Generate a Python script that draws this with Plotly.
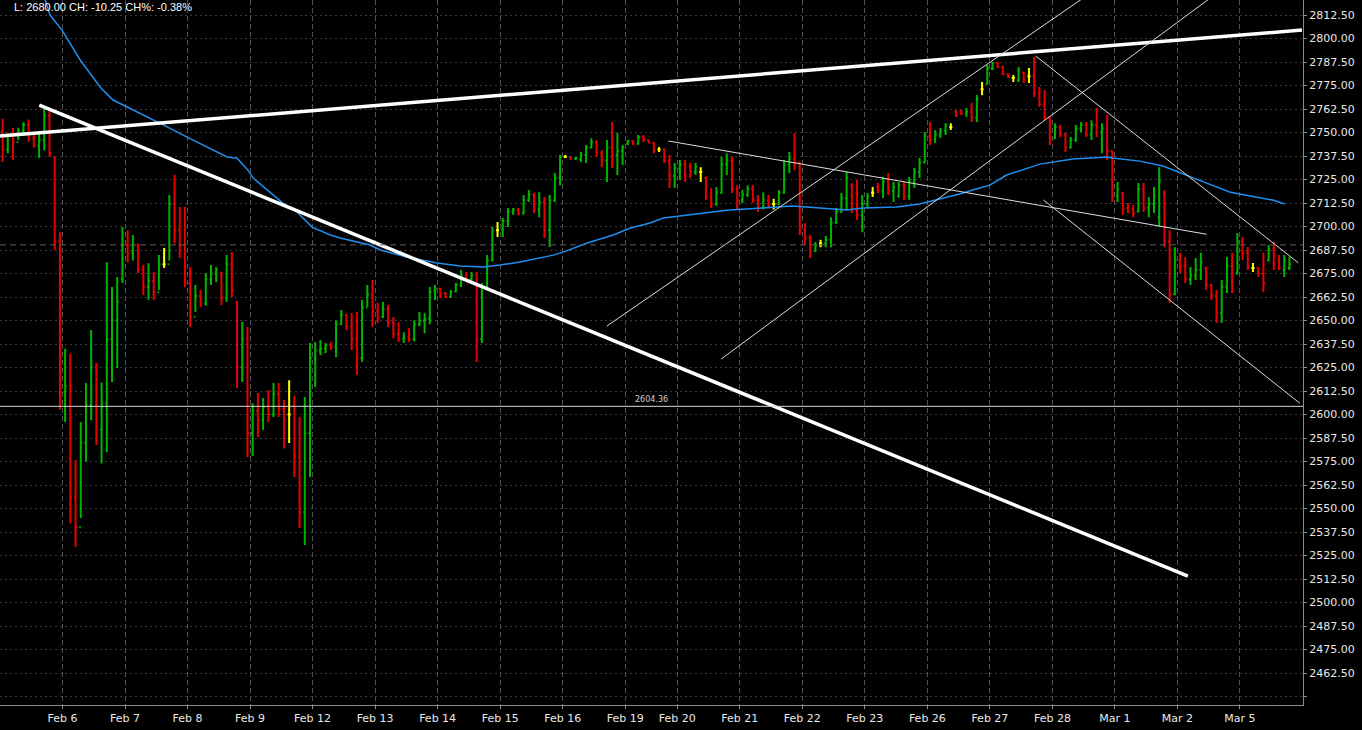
import plotly.graph_objects as go

# ---------------- data ----------------
days = ["Feb 5", "Feb 6", "Feb 7", "Feb 8", "Feb 9", "Feb 12", "Feb 13", "Feb 14",
        "Feb 15", "Feb 16", "Feb 19", "Feb 20", "Feb 21", "Feb 22", "Feb 23",
        "Feb 26", "Feb 27", "Feb 28", "Mar 1", "Mar 2", "Mar 5"]
bars_per_day = [12, 12, 12, 12, 12, 12, 12, 12, 12, 12, 10,
                12, 12, 12, 12, 12, 12, 12, 12, 12, 10]

opens = [
    # Feb 5
    2750, 2741, 2748, 2745, 2751, 2754, 2747, 2743, 2746, 2759, 2737, 2692,
    # Feb 6
    2612, 2615, 2556, 2540, 2585, 2605, 2625, 2592, 2606, 2640, 2650, 2672,
    # Feb 7
    2690, 2686, 2690, 2677, 2668, 2671, 2665, 2680, 2680, 2712, 2698, 2690,
    # Feb 8
    2670, 2652, 2663, 2659, 2672, 2675, 2675, 2662, 2680, 2660, 2625, 2640,
    # Feb 9
    2590, 2602, 2597, 2604, 2600, 2611, 2603, 2600, 2605, 2578, 2548, 2590,
    # Feb 12
    2630, 2634, 2635, 2637, 2636, 2648, 2653, 2647, 2640, 2630, 2657, 2664,
    # Feb 13
    2655, 2652, 2656, 2649, 2643, 2640, 2641, 2640, 2648, 2650, 2651, 2666,
    # Feb 14
    2667, 2664.5, 2662.5, 2665.5, 2669, 2674, 2672, 2674, 2640, 2668, 2682, 2698,
    # Feb 15
    2698, 2703, 2708, 2709, 2707, 2714, 2717, 2709, 2713, 2698, 2714, 2726,
    # Feb 16
    2737, 2737, 2736, 2735.5, 2738, 2742, 2745, 2739, 2735, 2742, 2738, 2740,
    # Feb 19
    2744, 2745.5, 2744, 2747.5, 2746, 2744.5, 2741, 2741, 2735, 2727,
    # Feb 20
    2731, 2733, 2732, 2729, 2729, 2726, 2716, 2712, 2718, 2733, 2735, 2720,
    # Feb 21
    2714, 2717, 2720, 2714, 2710, 2714, 2712, 2712, 2718, 2733, 2736, 2734,
    # Feb 22
    2698, 2694, 2687, 2691, 2691, 2693, 2702, 2708, 2715, 2722, 2718, 2706,
    # Feb 23
    2712, 2718, 2721, 2719, 2724, 2719, 2716, 2722, 2716, 2724, 2729, 2734,
    # Feb 26
    2748, 2746, 2749, 2751, 2753, 2761, 2761, 2760, 2761, 2758, 2773, 2776,
    # Feb 27
    2784, 2787, 2785, 2781, 2779, 2778, 2782, 2780, 2780, 2771, 2765, 2758,
    # Feb 28
    2747, 2753, 2749, 2742, 2746, 2752, 2754, 2749, 2754, 2750, 2752, 2740,
    # Mar 1
    2716, 2718, 2710, 2709, 2708, 2720, 2710, 2712, 2705, 2718, 2692, 2664,
    # Mar 2
    2682, 2679, 2672, 2674, 2677, 2678, 2669, 2663, 2654, 2668, 2679, 2675,
    # Mar 5
    2692, 2686, 2678, 2678, 2675, 2682, 2688, 2682, 2677, 2678,
]
highs = [
    2757.5, 2749.7, 2752.5, 2752.5, 2755.5, 2757, 2749.5, 2749.5, 2763, 2762, 2737, 2697,
    2635, 2632.5, 2575.8, 2596, 2616.8, 2645, 2627.4, 2617, 2681, 2667.8, 2673.1, 2699.7,
    2698, 2695.5, 2691, 2679.5, 2680.5, 2675.8, 2684.8, 2688.6, 2716.8, 2727.4, 2710.4, 2710.4,
    2678.5, 2668.9, 2666.2, 2675.3, 2679.5, 2678.5, 2676, 2684.8, 2686.4, 2660.5, 2649.2, 2646.5,
    2606, 2611.4, 2608.8, 2613, 2616.8, 2616.8, 2607.7, 2618.3, 2610, 2598.7, 2609.3, 2638,
    2638.6, 2639.6, 2638, 2638.6, 2650.2, 2655.6, 2653.5, 2654, 2654.5, 2660.9, 2668.9, 2671.5,
    2659.3, 2659.8, 2658.2, 2651.9, 2649.2, 2643.8, 2645.9, 2650.2, 2654.5, 2654, 2667.8, 2668.9,
    2667.3, 2665.2, 2666.2, 2670, 2676.9, 2675.8, 2675.8, 2675.8, 2670, 2684.8, 2699.7, 2702.4,
    2704.5, 2709.8, 2709.8, 2709.8, 2716.8, 2719.4, 2717.8, 2718.3, 2715.7, 2716.8, 2728.5, 2738,
    2738, 2737, 2737, 2739.6, 2743.4, 2747, 2746, 2740.7, 2746, 2755.6, 2749.7, 2743.4,
    2746, 2746, 2748.7, 2748.7, 2746, 2745, 2742.3, 2741.5, 2738, 2733.8,
    2735.4, 2735.4, 2733.8, 2733.8, 2731.6, 2726.5, 2720.5, 2721, 2737, 2739, 2737, 2722,
    2719.4, 2722, 2722, 2716.8, 2718.3, 2716.8, 2714.8, 2719.4, 2735.4, 2739.6, 2749.7, 2734.3,
    2701.9, 2695.5, 2691.8, 2693, 2695, 2705, 2709.8, 2717.8, 2729, 2723, 2724.7, 2716.8,
    2717.8, 2721, 2723.1, 2726.3, 2728.5, 2723.7, 2723.7, 2723.7, 2726.3, 2731.1, 2736.4, 2750.3,
    2755.6, 2751.3, 2752.4, 2755, 2755, 2762, 2762, 2763, 2765.7, 2770, 2776.9, 2785.9,
    2787.5, 2787.5, 2785.5, 2781.6, 2780.6, 2784.8, 2782.2, 2784.3, 2790.2, 2774.2, 2772.6, 2758.5,
    2755, 2754, 2749.7, 2747.6, 2754, 2755.6, 2755.6, 2756.6, 2763, 2755, 2759.3, 2740.5,
    2723.7, 2718.5, 2712.5, 2711.4, 2723.1, 2723.1, 2715.7, 2721, 2731.6, 2719.4, 2698, 2689,
    2686, 2683.8, 2678.5, 2683.3, 2686, 2678.5, 2669.5, 2666.2, 2671.5, 2683.8, 2686, 2696.5,
    2694.4, 2689.1, 2680.6, 2678.5, 2686, 2690.2, 2691.8, 2684.8, 2684.8, 2683.8,
]
lows = [
    2734.5, 2739, 2735.5, 2746, 2749.5, 2745, 2742, 2736.5, 2740.5, 2737, 2687.5, 2602.5,
    2596, 2542, 2529.5, 2545, 2574.8, 2597, 2583.8, 2574, 2580, 2617.3, 2624.7, 2670,
    2681, 2682, 2675.3, 2663.6, 2660.9, 2660.9, 2666.2, 2678, 2682, 2691, 2683.3, 2667.8,
    2646.5, 2654.5, 2657.2, 2658, 2668.9, 2670.5, 2658.2, 2659.8, 2662.5, 2614.1, 2617.3, 2577.4,
    2578, 2588, 2591.8, 2596, 2598.7, 2598.7, 2582, 2584.8, 2566.8, 2539.6, 2530.6, 2566.8,
    2614.6, 2631.6, 2632.7, 2634.3, 2630.6, 2647.6, 2644.9, 2634.3, 2621, 2628, 2657.2, 2646.5,
    2648.7, 2651.3, 2646.5, 2640.6, 2638.6, 2638, 2638.6, 2639, 2647, 2643.3, 2648, 2660.9,
    2662, 2662, 2662, 2665, 2667.8, 2671.5, 2670, 2627.9, 2638, 2667.8, 2681.5, 2694.4,
    2694.4, 2699.7, 2706.1, 2706.1, 2706.5, 2713, 2707.2, 2705, 2693.9, 2689.1, 2713, 2722,
    2736.4, 2735.4, 2735.4, 2734.3, 2733.8, 2741.5, 2737, 2731.6, 2723.7, 2731.1, 2727.4, 2732.7,
    2743.4, 2743.4, 2743.5, 2745, 2744.4, 2739, 2739.6, 2733.8, 2720.5, 2720.5,
    2724.7, 2723.7, 2725.8, 2727.4, 2723.7, 2714.1, 2709.8, 2711, 2717.5, 2727.4, 2717.8, 2708.8,
    2712.5, 2715.7, 2712.5, 2707.7, 2709, 2709.8, 2709, 2711.5, 2717.5, 2728.5, 2730, 2695.5,
    2690.2, 2683.3, 2686.4, 2689, 2689, 2689, 2701.5, 2707.2, 2708.8, 2707.2, 2703.5, 2697,
    2709.8, 2715.7, 2717.8, 2715.2, 2716.8, 2713, 2715.5, 2714.1, 2714.1, 2720.5, 2725.8, 2733.8,
    2743.4, 2744.4, 2747.1, 2748.7, 2751.3, 2758.2, 2759.3, 2758.2, 2755.6, 2755.6, 2769.9, 2775.5,
    2783.2, 2784.3, 2780.6, 2779, 2776.9, 2776.9, 2776.3, 2776.3, 2768.9, 2763.6, 2756.6, 2743.4,
    2746.5, 2747.6, 2739.6, 2741.5, 2745, 2750.3, 2747.6, 2746, 2747.6, 2739, 2735.4, 2713,
    2713, 2706.1, 2707.2, 2705, 2707.5, 2707.7, 2705, 2707.2, 2699.7, 2689.1, 2659.3, 2663.5,
    2675.3, 2670, 2668.9, 2671.5, 2671.5, 2666.2, 2660.9, 2648.7, 2648.7, 2664.6, 2664.6, 2674.5,
    2682.2, 2676.9, 2675.8, 2673.1, 2665.2, 2681.5, 2676.9, 2676.9, 2673.1, 2676.9,
]
closes = [
    2741, 2748, 2745, 2751, 2754, 2747, 2743, 2746, 2759, 2739, 2692, 2612,
    2615, 2556, 2540, 2585, 2605, 2625, 2592, 2606, 2640, 2650, 2660, 2690,
    2686, 2690, 2677, 2668, 2671, 2665, 2680, 2680, 2712, 2698, 2690, 2670,
    2652, 2663, 2659, 2672, 2675, 2677, 2662, 2680, 2666, 2625, 2640, 2590,
    2602, 2597, 2604, 2600, 2611, 2603, 2590, 2600, 2578, 2548, 2590, 2630,
    2634, 2635, 2637, 2636, 2648, 2653, 2647, 2640, 2630, 2657, 2664, 2655,
    2652, 2656, 2649, 2643, 2640, 2641, 2640, 2648, 2650, 2651, 2665, 2667,
    2663, 2662.5, 2665.5, 2669, 2674, 2672, 2674, 2640, 2668, 2682, 2698, 2698,
    2703, 2708, 2709, 2707, 2714, 2717, 2709, 2713, 2698, 2714, 2726, 2737,
    2737, 2736, 2736.5, 2738, 2742, 2745, 2739, 2735, 2742, 2738, 2740, 2742,
    2745.5, 2744, 2747.5, 2746, 2744.5, 2740, 2741, 2735, 2727, 2731,
    2733, 2727, 2729, 2732, 2729, 2716, 2712, 2718, 2733, 2735, 2720, 2714,
    2717, 2720, 2714, 2710, 2714, 2711, 2712, 2718, 2733, 2736, 2734, 2698,
    2694, 2687, 2690, 2691, 2693, 2702, 2708, 2715, 2726, 2712, 2706, 2712,
    2716, 2718, 2719, 2724, 2719, 2721, 2722, 2716, 2724, 2729, 2734, 2748,
    2746, 2749, 2751, 2754, 2753, 2759, 2760, 2761, 2758, 2768, 2773, 2784,
    2787, 2785, 2781, 2779.5, 2779, 2783, 2778, 2780, 2771, 2765, 2758, 2747,
    2753, 2749, 2742, 2746, 2752, 2754, 2749, 2754, 2750, 2752, 2740, 2716,
    2720, 2709, 2708, 2707, 2720, 2710, 2712, 2716, 2724, 2692, 2664, 2682,
    2679, 2672, 2674, 2677, 2681, 2669, 2663, 2654, 2668, 2679, 2675, 2692,
    2686, 2679, 2678, 2675, 2670, 2688, 2680, 2678, 2682, 2680,
]

# moving average readings (bar position, value)
ma_x = [8, 9.1, 11.4, 14.9, 18.7, 21.2, 23.9, 28.3, 31.6, 35.4, 39.2, 43.1, 45, 47.1,
        48.1, 51.3, 53.8, 56.5, 59.4, 62.9, 64.8, 70.5, 72.5, 77.6, 83.4, 87.8, 92.2,
        95.5, 99.3, 105.7, 107.6, 112.2, 117.2, 120.5, 124.3, 126.8, 133.2, 139.5,
        145.9, 151.6, 154.3, 158.7, 162, 165.1, 171.6, 176, 179.3, 183.7, 186.2, 189.5,
        192.7, 199.1, 205.4, 211.9, 213, 218.3, 222.7, 227.3, 231.1, 235.5, 237.4,
        243.8, 246.1]
ma_v = [2822, 2812.5, 2804.5, 2788.6, 2774.2, 2767.3, 2763.6, 2757.7, 2753, 2747.6,
        2742.3, 2737, 2736.3, 2730, 2725.8, 2718.4, 2712.5, 2707.7, 2699.7, 2695.5,
        2693.9, 2690.2, 2687.5, 2683.8, 2680.6, 2679, 2678.5, 2679.5, 2681.1, 2684.8,
        2686.4, 2691.2, 2695.5, 2699.2, 2701.9, 2704.5, 2706.6, 2708.8, 2709.8, 2710.9,
        2710.4, 2709.3, 2708.8, 2709.8, 2710.4, 2712, 2714.1, 2717.3, 2719.4, 2722,
        2727.4, 2733.2, 2735.9, 2737, 2736.4, 2734.8, 2732.2, 2727.4, 2723.1, 2718.4,
        2717.3, 2714.1, 2712]

# drawn trend lines: (x0, y0, x1, y1)
thick_lines = [(-0.5, 2748.1, 249.4, 2804.5),
               (7.04, 2764.6, 227.5, 2514.1)]
thin_lines = [(127.8, 2745.5, 231.1, 2695.9),
              (116.0, 2647.1, 210.7, 2827.8),
              (137.9, 2629.5, 235.6, 2829.3),
              (198.3, 2790.7, 248.7, 2680.7),
              (199.8, 2714.1, 249.0, 2606.0)]
level_line = 2604.36
prev_close = 2690.25
header_text = "L: 2680.00 CH: -10.25 CH%: -0.38%"

# ---------------- build ----------------
n = len(closes)
xs = list(range(n))
tickvals, ticktext = [], []
start = 0
for d, cnt in zip(days, bars_per_day):
    if start > 0:
        tickvals.append(start - 0.5)
        ticktext.append(d)
    start += cnt

doji = [o == c for o, c in zip(opens, closes)]


def pick(vals, keep):
    return [v if k else None for v, k in zip(vals, keep)]


normal = [not d for d in doji]
fig = go.Figure()
fig.add_trace(go.Ohlc(
    x=xs, open=pick(opens, normal), high=pick(highs, normal),
    low=pick(lows, normal), close=pick(closes, normal),
    increasing=dict(line=dict(color="#00b400", width=2)),
    decreasing=dict(line=dict(color="#e60000", width=2)),
    tickwidth=0.3, hoverinfo="skip"))
fig.add_trace(go.Ohlc(
    x=xs, open=pick(opens, doji), high=pick(highs, doji),
    low=pick(lows, doji), close=pick(closes, doji),
    increasing=dict(line=dict(color="#ffff00", width=2)),
    decreasing=dict(line=dict(color="#ffff00", width=2)),
    tickwidth=0.3, hoverinfo="skip"))

fig.add_trace(go.Scatter(x=ma_x, y=ma_v, mode="lines",
                         line=dict(color="#1e8ff0", width=1.5), hoverinfo="skip"))

for x0, y0, x1, y1 in thick_lines:
    fig.add_trace(go.Scatter(x=[x0, x1], y=[y0, y1], mode="lines",
                             line=dict(color="#ffffff", width=3.5), hoverinfo="skip"))
for x0, y0, x1, y1 in thin_lines:
    fig.add_trace(go.Scatter(x=[x0, x1], y=[y0, y1], mode="lines",
                             line=dict(color="#dcdcdc", width=1), hoverinfo="skip"))

fig.add_shape(type="line", xref="paper", x0=0, x1=1, yref="y",
              y0=prev_close, y1=prev_close,
              line=dict(color="#5f5f5f", width=1, dash="6px,4px"))
fig.add_shape(type="line", xref="paper", x0=0, x1=1, yref="y",
              y0=level_line, y1=level_line,
              line=dict(color="#d8d8d8", width=1))
fig.add_annotation(xref="paper", x=0.5, y=level_line, yanchor="bottom",
                   text=f"{level_line:.2f}", showarrow=False,
                   font=dict(family="DejaVu Sans", size=8, color="#d0d0d0"))
fig.add_annotation(xref="paper", yref="paper", x=0, y=1, xanchor="left", yanchor="top",
                   xshift=12, yshift=1, text=header_text, showarrow=False,
                   font=dict(family="Liberation Sans", size=11, color="#ffffff"))

ytick = [2450 + 12.5 * k for k in range(30)]
ytext = ["" if v < 2460 else f"{v:.2f}" for v in ytick]

axis_font = dict(family="DejaVu Sans", size=11, color="#e8e8e8")
fig.update_layout(
    width=1362, height=730,
    margin=dict(l=0, r=59, t=0, b=25),
    paper_bgcolor="#000000", plot_bgcolor="#000000",
    showlegend=False,
    xaxis=dict(range=[-0.5, 249.6], tickmode="array", tickvals=tickvals, ticktext=ticktext,
               showgrid=True, gridcolor="#525252", griddash="5px,3px", gridwidth=1,
               rangeslider=dict(visible=False), showline=True, linecolor="#8c8c8c",
               ticks="outside", ticklen=3, tickcolor="#8c8c8c", tickfont=axis_font,
               zeroline=False),
    yaxis=dict(side="right", range=[2445.5, 2820.5], tickmode="array",
               tickvals=ytick, ticktext=ytext,
               showgrid=True, gridcolor="#3a3a3a", griddash="2px,3px", gridwidth=1,
               showline=True, linecolor="#8c8c8c", ticks="outside", ticklen=3,
               tickcolor="#8c8c8c", tickfont=axis_font, zeroline=False),
)

fig.write_html(
    "out.html",
    config={"displayModeBar": False},
    post_script="document.body.style.margin='0';document.body.style.background='#000';",
)
